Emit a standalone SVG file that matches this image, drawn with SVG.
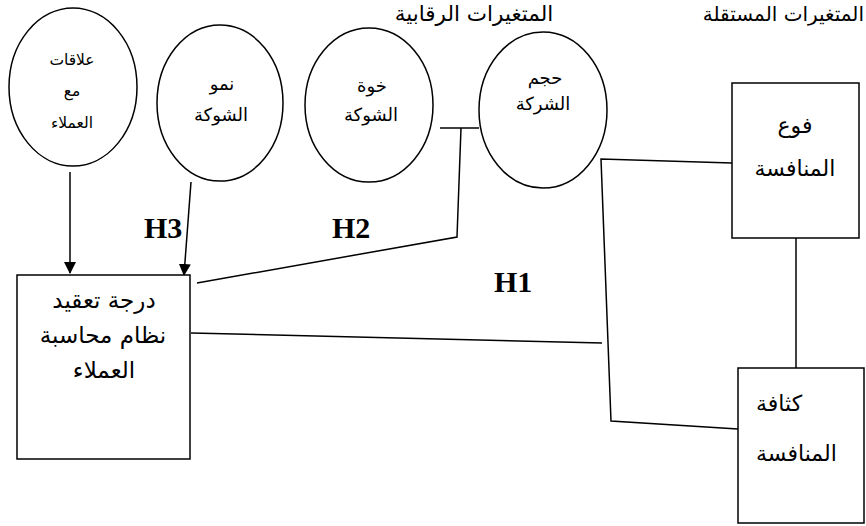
<svg xmlns="http://www.w3.org/2000/svg" width="866" height="526" viewBox="0 0 866 526">
<style>
.bg{fill:#fff}
.shape{fill:#fff;stroke:#000;stroke-width:1.5}
.ln{fill:none;stroke:#000;stroke-width:1.5}
.ar{font-family:"DejaVu Sans","Liberation Sans",sans-serif;fill:#000;text-anchor:middle}
.t{font-size:21.5px}
.s{font-size:15.5px}
.m{font-size:18px}
.l{font-size:22px}
.xl{font-size:23px}
.h{font-family:"Liberation Serif","DejaVu Serif",serif;font-weight:bold;font-size:30px;fill:#000}
</style>
<defs>
<marker id="arr" markerWidth="12" markerHeight="12" refX="11" refY="6" orient="auto" markerUnits="userSpaceOnUse">
<path d="M0,0 L12,6 L0,12 Z" fill="#000"/>
</marker>
</defs>
<rect class="bg" x="0" y="0" width="866" height="526"/>

<g id="titles">
<text class="ar t" x="474" y="21">المتغيرات الرقابية</text>
<text class="ar t" x="864" y="21" style="text-anchor:end;font-size:20px">المتغيرات المستقلة</text>
</g>

<g id="connectors">
<line class="ln" x1="70" y1="172" x2="70" y2="273" marker-end="url(#arr)"/>
<line class="ln" x1="191" y1="182" x2="184" y2="275" marker-end="url(#arr)"/>
<polyline class="ln" points="197,283 457,237 461,128"/>
<line class="ln" x1="440" y1="128" x2="479" y2="128"/>
<line class="ln" x1="191" y1="333" x2="602" y2="343"/>
<polyline class="ln" points="732,163 601,159 611,421 738,429"/>
<line class="ln" x1="796" y1="238" x2="796" y2="368"/>
</g>

<g id="node-customer-relations">
<ellipse class="shape" cx="73" cy="87" rx="64" ry="79"/>
<text class="ar s" x="72" y="65">علاقات</text>
<text class="ar s" x="72" y="96">مع</text>
<text class="ar s" x="72" y="128">العملاء</text>
</g>

<g id="node-growth">
<ellipse class="shape" cx="220" cy="103" rx="63" ry="78"/>
<text class="ar m" x="222" y="90">نمو</text>
<text class="ar m" x="221" y="121">الشوكة</text>
</g>

<g id="node-risk">
<ellipse class="shape" cx="369" cy="105" rx="64" ry="77"/>
<text class="ar m" x="372" y="92">خوة</text>
<text class="ar m" x="371" y="121">الشوكة</text>
</g>

<g id="node-size">
<ellipse class="shape" cx="543" cy="110" rx="64" ry="78"/>
<text class="ar m" x="545" y="84">حجم</text>
<text class="ar m" x="543" y="110">الشركة</text>
</g>

<g id="node-competition-type">
<rect class="shape" x="732" y="83" width="127" height="155"/>
<text class="ar l" x="795" y="133">فوع</text>
<text class="ar l" x="795" y="176">المنافسة</text>
</g>

<g id="node-competition-density">
<rect class="shape" x="738" y="368" width="126" height="155"/>
<text class="ar l" x="756" y="411" style="text-anchor:start">كثافة</text>
<text class="ar l" x="756" y="461" style="text-anchor:start">المنافسة</text>
</g>

<g id="node-complexity">
<rect class="shape" x="17" y="275" width="173" height="184"/>
<text class="ar xl" x="104" y="308">درجة تعقيد</text>
<text class="ar xl" x="103" y="343">نظام محاسبة</text>
<text class="ar xl" x="104" y="378">العملاء</text>
</g>

<g id="labels">
<text class="h" x="144" y="238">H3</text>
<text class="h" x="332" y="238">H2</text>
<text class="h" x="494" y="292">H1</text>
</g>
</svg>
